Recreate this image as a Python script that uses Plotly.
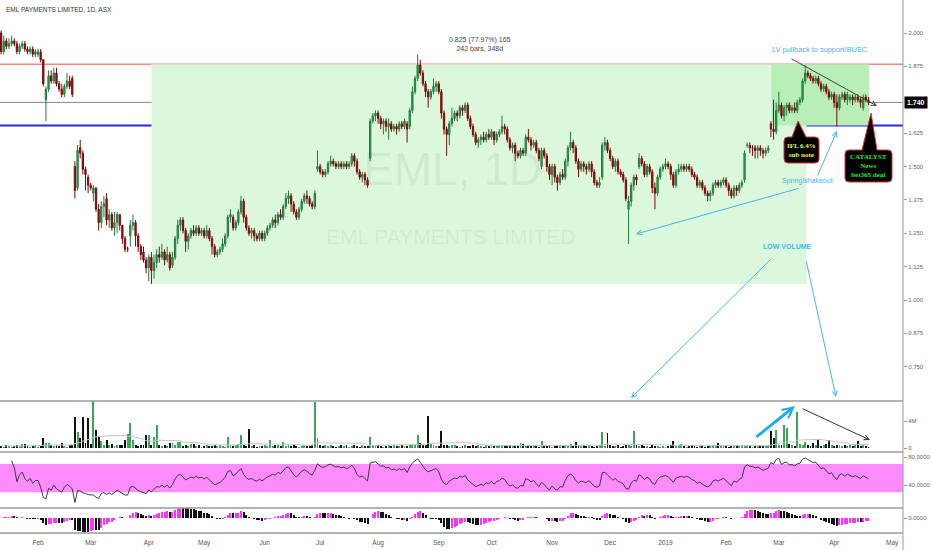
import numpy as np
import pandas as pd
import plotly.graph_objects as go

# ---------------- data (prices in cents, volume in 100k shares) ----------------
start_date = "2018-01-12"

opens = [
    200,193,197,195,196,197,196,193,195,196, 194,193,194,192,192,193,190,175,179,184,
    182,185,181,179,177,180,182,183,150,142, 157,155,149,146,143,140,142,134,129,135,
    138,130,132,127,129,132,128,123,119,124, 128,129,124,120,118,115,112,116,111,114,
    117,116,118,115,117,113,116,123,128,130, 126,122,124,126,125,127,125,126,124,126,
    123,120,117,118,119,121,124,131,131,127, 129,133,137,131,127,125,126,124,123,125,
    123,125,127,128,130,129,132,131,135,138, 139,136,133,131,134,137,139,138,136,135,
    149,150,148,147,148,151,152,151,150,151, 150,151,150,151,154,152,148,146,147,145,
    153,167,169,170,168,166,167,165,166,164, 165,164,166,165,166,165,171,178,183,188,
    185,181,178,176,178,180,181,178,170,164, 162,166,168,170,169,172,171,173,168,165,
    162,159,160,161,160,162,161,163,160,162, 163,165,164,160,157,158,155,154,156,155,
    161,160,158,159,156,150,156,154,150,147, 150,146,144,147,146,152,157,159,157,152,
    149,151,150,149,151,148,144,143,146,158, 159,156,153,150,152,148,147,145,134,137,
    143,146,150,153,151,147,150,148,142,140, 146,149,150,151,150,147,143,148,149,150,
    149,150,149,147,146,143,144,142,140,139, 140,143,144,143,144,145,143,141,139,142,
    141,143,145,158,158,157,157,156,157,156, 155,156,166,164,163,171,173,169,172,173,
    171,172,171,174,175,182,185,184,183,182, 183,181,179,180,178,176,177,174,172,176,
    177,175,175,176,175,176,175,172,176,175,
]
highs = [
    201,199,198,198,199,198,197,196,197,197, 195,195,195,194,194,194,190,180,186,186,
    187,187,182,181,181,185,184,184,152,158, 160,156,150,147,144,143,142,136,137,139,
    140,134,133,133,133,132,128,124,120,130, 132,130,125,121,120,116,117,118,117,119,
    120,121,119,120,118,118,124,130,131,131, 127,125,127,128,128,128,127,127,128,127,
    124,121,119,120,123,125,132,134,132,130, 134,139,138,132,128,127,127,125,126,126,
    126,128,129,131,132,133,134,136,140,141, 140,137,134,135,138,140,141,139,137,141,
    156,151,149,149,152,154,153,152,152,152, 152,152,152,155,155,153,149,148,148,146,
    168,170,171,171,169,168,168,168,167,166, 166,167,167,168,167,172,180,184,192,190,
    186,182,179,179,183,182,182,179,171,165, 167,172,171,171,173,173,174,174,169,166,
    163,161,162,163,163,164,164,163,163,164, 169,166,165,161,159,159,156,157,157,162,
    164,161,160,160,157,157,157,155,151,151, 151,147,148,149,153,158,163,160,158,153,
    152,152,151,152,152,149,145,146,159,161, 160,157,154,153,153,149,148,146,139,144,
    147,147,155,154,152,151,151,149,144,147, 150,151,153,152,151,148,149,151,151,151,
    151,151,150,148,147,145,145,143,141,141, 144,145,145,145,146,146,144,142,143,143,
    144,145,156,159,159,158,158,158,158,157, 157,158,167,175,174,178,174,173,174,174,
    173,174,175,176,183,188,186,185,184,184, 184,182,181,181,179,178,178,177,177,178,
    178,178,177,177,177,177,176,177,177,176,
]
lows = [
    192,192,194,194,195,195,192,192,194,193, 192,192,191,191,191,189,180,167,178,181,
    181,180,178,176,176,179,179,176,138,141, 153,147,141,140,141,137,133,126,127,131,
    128,127,126,124,125,126,121,118,118,120, 126,120,118,115,114,110,107,106,108,112,
    114,115,113,114,111,112,115,121,126,125, 118,119,123,124,124,124,124,123,123,122,
    117,116,116,117,118,120,123,129,126,126, 128,132,129,126,124,123,122,122,122,122,
    122,124,126,127,127,128,130,130,134,136, 133,132,130,130,133,136,136,135,134,134,
    148,147,146,146,147,150,150,149,149,149, 149,149,149,150,150,147,145,144,143,142,
    152,166,167,166,164,162,163,160,163,163, 162,163,164,164,159,164,170,177,182,184,
    180,176,172,175,177,178,177,168,162,154, 158,165,167,167,168,169,170,167,164,161,
    158,157,158,159,159,160,160,158,159,161, 162,162,159,156,155,152,153,153,154,154,
    159,156,157,155,152,149,153,148,145,143, 144,141,143,145,145,150,156,155,151,146,
    148,148,147,148,146,143,142,142,145,156, 155,152,149,148,147,146,144,137,121,135,
    141,143,149,150,146,146,147,140,134,139, 145,148,149,149,145,142,142,147,148,148,
    148,148,146,145,142,142,141,139,137,137, 139,142,142,142,143,142,139,138,138,139,
    140,142,144,157,155,154,153,153,154,153, 154,155,161,160,162,170,168,167,169,170,
    170,170,170,173,174,181,183,182,181,181, 180,178,178,177,175,175,172,165,171,175,
    174,173,174,173,174,174,172,171,174,173,
]
closes = [
    193,197,195,196,197,196,193,195,196,194, 193,194,192,193,193,190,181,179,184,182,
    185,181,179,177,180,182,180,177,141,156, 155,149,147,143,142,142,134,129,135,136,
    130,132,127,129,132,128,123,119,119,128, 129,124,120,117,115,112,116,111,114,117,
    116,118,115,117,112,116,123,128,130,126, 122,124,126,125,127,125,126,124,126,123,
    120,117,118,119,121,124,131,132,127,129, 133,137,131,127,125,126,124,123,125,123,
    125,127,128,130,129,132,131,135,138,139, 136,133,131,134,137,139,138,136,135,140,
    150,148,147,148,151,152,151,150,151,150, 151,150,151,154,152,148,146,147,145,143,
    167,169,170,168,166,167,165,166,164,165, 164,166,165,167,164,171,178,183,188,185,
    181,178,176,178,180,181,178,170,164,162, 166,168,170,169,172,171,173,168,165,162,
    159,160,161,160,162,161,163,160,162,163, 165,164,160,157,158,155,154,156,155,161,
    160,158,159,156,153,156,154,150,147,150, 146,144,147,146,152,157,159,157,152,149,
    151,150,149,151,148,144,143,144,158,159, 156,153,150,152,148,147,145,138,137,143,
    146,145,153,151,147,150,148,142,140,146, 149,150,151,150,147,143,148,149,150,149,
    150,149,147,146,143,144,142,140,139,140, 143,144,143,144,145,143,141,139,142,141,
    143,144,155,158,157,157,156,157,156,155, 156,157,164,163,171,173,169,172,173,171,
    172,171,174,175,182,185,184,183,182,183, 181,179,180,178,176,177,174,172,176,177,
    175,177,176,175,176,175,174,176,175,174,
]
volumes = [
    3,2,4,3,2,3,4,3,6,6, 3,2,3,4,2,3,15,7,7,4, 3,4,3,7,3,2,4,5,46,24,
    15,46,7,45,6,70,27,18,10,5, 12,4,6,3,5,4,5,12,21,37, 12,4,3,5,4,20,20,5,16,34,
    4,3,5,3,7,7,4,9,9,3, 4,3,6,6,3,4,2,3,4,3, 3,5,3,4,3,2,17,4,3,4,
    6,19,5,3,28,3,4,2,3,3, 4,3,12,3,4,5,3,9,3,4, 3,4,3,2,3,4,3,3,5,68,
    15,4,3,5,3,4,3,2,3,4, 3,4,2,3,4,3,2,4,3,3, 16,5,3,4,3,2,3,4,3,4,
    3,3,4,3,3,5,6,4,20,7, 4,5,47,6,4,3,3,25,5,4, 3,4,5,3,2,3,4,3,3,5,
    3,4,3,2,4,3,5,3,3,5, 3,4,3,4,3,5,3,8,6,3, 4,3,4,3,2,10,3,3,4,2,
    3,4,5,3,4,3,6,3,9,4, 3,5,3,4,3,2,3,4,24,3, 22,4,3,3,4,2,3,5,4,3,
    25,4,3,4,3,3,2,4,3,3, 2,3,2,3,4,10,3,4,6,3, 2,3,4,3,2,3,4,2,3,3,
    4,3,7,3,4,3,2,3,4,5, 3,4,3,4,3,2,3,3,4,3, 3,4,25,15,26,5,4,34,29,6,
    4,3,53,6,4,9,4,3,8,4, 12,3,4,6,12,4,3,5,4,3, 4,3,5,3,4,10,3,4,3,2,
]

resistance_level = 1.883   # red line / top of range box
support_level = 1.654      # blue line
rsi_band = (30, 70)
price_ticks = [0.625, 0.75, 0.875, 1.0, 1.125, 1.25, 1.375, 1.5, 1.625, 1.875, 2.0]

# ---------------- derived series ----------------
N = len(closes)
idx = np.arange(N)
o = np.array(opens) / 100.0
c = np.array(closes) / 100.0
h = np.maximum(np.array(highs) / 100.0, np.maximum(o, c))
l = np.minimum(np.array(lows) / 100.0, np.minimum(o, c))
vol = np.array(volumes, dtype=float)

all_dates = pd.bdate_range(start_date, "2019-05-10")
tickvals, ticktext = [], []
for k in range(1, len(all_dates)):
    if all_dates[k].month != all_dates[k - 1].month:
        tickvals.append(k)
        ticktext.append(str(all_dates[k].year) if all_dates[k].month == 1 else all_dates[k].strftime("%b"))

cs = pd.Series(c)
d = cs.diff()
au = d.clip(lower=0).ewm(alpha=1 / 14, adjust=True, min_periods=4).mean()
ad = (-d.clip(upper=0)).ewm(alpha=1 / 14, adjust=True, min_periods=4).mean()
rsi = 100 - 100 / (1 + au / ad)

macd = cs.ewm(span=12, adjust=False).mean() - cs.ewm(span=26, adjust=False).mean()
hist = macd - macd.ewm(span=9, adjust=False).mean()
hist_col = ["#ff33ff" if (i > 0 and hist[i] >= hist[i - 1]) else "#111111" for i in range(N)]
vol_ma = pd.Series(vol).rolling(20, min_periods=1).mean()
vol_col = ["#3ba55c" if c[i] >= o[i] else "#111111" for i in range(N)]

# ---------------- geometry helpers (pixels -> paper) ----------------
W, H = 932, 550
ML, MR, MT, MB = 0, 29, 0, 17
PW, PH = W - ML - MR, H - MT - MB


def X(x):
    return (x - ML) / PW


def Y(y):
    return (PH - (y - MT)) / PH


def rng(v_a, y_a, v_b, y_b, top, bottom):
    k = (v_a - v_b) / (y_b - y_a)
    return [v_b - (bottom - y_b) * k, v_a + (y_a - top) * k]


price_rng = rng(2.0, 33, 1.0, 300, 0, 400)
vol_rng = rng(40, 421, 0, 448, 401, 452)
rsi_rng = rng(70, 463.3, 30, 492, 452, 508)
hmin = float(hist.min())
lo = hmin * 15 / 14
macd_rng = [lo, -lo * 10 / 15]

fig = go.Figure()
fig.add_trace(go.Candlestick(
    x=idx, open=o, high=h, low=l, close=c, whiskerwidth=0,
    increasing=dict(line=dict(color="#1f7a3f", width=1), fillcolor="#3aa55d"),
    decreasing=dict(line=dict(color="#7a0a0a", width=1), fillcolor="#a31212"),
    xaxis="x", yaxis="y", hoverinfo="skip"))
fig.add_trace(go.Bar(x=idx, y=vol, marker=dict(color=vol_col, line=dict(width=0)), width=0.72,
                     xaxis="x", yaxis="y2"))
fig.add_trace(go.Scatter(x=idx, y=vol_ma, mode="lines", line=dict(color="#c4c4c4", width=1),
                         xaxis="x", yaxis="y2"))
fig.add_trace(go.Scatter(x=idx, y=rsi, mode="lines", line=dict(color="#3a3a3a", width=1),
                         xaxis="x", yaxis="y3"))
fig.add_trace(go.Bar(x=idx, y=hist, marker=dict(color=hist_col, line=dict(width=0)), width=0.75,
                     xaxis="x", yaxis="y4"))

low_idx = int(np.argmin(l))
shapes = [
    dict(type="rect", xref="x", yref="y", x0=low_idx, x1=305.5, y0=float(l[low_idx]), y1=resistance_level,
         fillcolor="#dcf8dc", line=dict(width=0), layer="below"),
    dict(type="rect", xref="x", yref="y", x0=292.2, x1=329.2, y0=support_level, y1=resistance_level,
         fillcolor="#b8eeb8", line=dict(width=0), layer="below"),
    dict(type="line", xref="paper", yref="y", x0=0, x1=1, y0=resistance_level, y1=resistance_level,
         line=dict(color="#f08a80", width=1.5), layer="below"),
    dict(type="line", xref="paper", yref="y", x0=0, x1=1, y0=float(c[-1]), y1=float(c[-1]),
         line=dict(color="#888888", width=1), layer="below"),
    dict(type="line", xref="paper", yref="y", x0=0, x1=1, y0=support_level, y1=support_level,
         line=dict(color="#2626e0", width=2), layer="below"),
    dict(type="rect", xref="paper", yref="y3", x0=0, x1=1, y0=rsi_band[0], y1=rsi_band[1],
         fillcolor="#ff8cff", line=dict(width=0), layer="below"),
]
for yy in (401, 452, 508, 533):
    shapes.append(dict(type="line", xref="paper", yref="paper", x0=0, x1=1, y0=Y(yy), y1=Y(yy),
                       line=dict(color="#9a9a9a", width=1.5)))
shapes.append(dict(type="line", xref="paper", yref="paper", x0=1, x1=1, y0=Y(550), y1=1,
                   line=dict(color="#9a9a9a", width=1)))


def callout(x0, y0, x1, y1, wl, wr, tx, ty, r=4):
    p = (f"M {X(x0 + r)},{Y(y0)} L {X(wl)},{Y(y0)} L {X(tx)},{Y(ty)} L {X(wr)},{Y(y0)} "
         f"L {X(x1 - r)},{Y(y0)} Q {X(x1)},{Y(y0)} {X(x1)},{Y(y0 + r)} L {X(x1)},{Y(y1 - r)} "
         f"Q {X(x1)},{Y(y1)} {X(x1 - r)},{Y(y1)} L {X(x0 + r)},{Y(y1)} Q {X(x0)},{Y(y1)} {X(x0)},{Y(y1 - r)} "
         f"L {X(x0)},{Y(y0 + r)} Q {X(x0)},{Y(y0)} {X(x0 + r)},{Y(y0)} Z")
    return dict(type="path", xref="paper", yref="paper", path=p, fillcolor="#000000",
                line=dict(color="#e03030", width=1))


shapes.append(callout(784, 137, 819, 163, 792, 806, 798, 121))
shapes.append(callout(845, 150, 892, 182, 862, 877, 871, 113))

SANS = "Liberation Sans, Arial, sans-serif"
SERIF = "Liberation Serif, serif"
BLUE = "#47b5ea"


def note(x, y, text, size=8, color="#333", family=SANS, xanchor="center", yanchor="middle", **kw):
    return dict(x=X(x), y=Y(y), xref="paper", yref="paper", text=text, showarrow=False,
                xanchor=xanchor, yanchor=yanchor,
                font=dict(size=size, color=color, family=family), **kw)


def arrow(x0, y0, x1, y1, color, width=1, size=1.0):
    return dict(x=X(x1), y=Y(y1), xref="paper", yref="paper", ax=x0 - x1, ay=y0 - y1,
                axref="pixel", ayref="pixel", showarrow=True, arrowhead=5, arrowsize=size,
                arrowwidth=width, arrowcolor=color, standoff=0, startstandoff=0, text="")


annotations = [
    note(453, 169, "EML, 1D", size=46, color="rgba(90,90,90,0.09)"),
    note(450, 236, "EML PAYMENTS LIMITED", size=21, color="rgba(90,90,90,0.09)"),
    note(4, 10, "EML PAYMENTS LIMITED, 1D, ASX", size=6.5, color="#333", xanchor="left"),
    note(480, 44, "0.825 (77.97%) 165<br>242 bars, 348d", size=7, color="#444"),
    note(820, 50, "LV pullback to support/BUEC", size=7.4, color=BLUE),
    note(807, 181, "Spring/shakeout", size=7, color=BLUE),
    note(787, 247, "<b>LOW VOLUME</b>", size=7, color=BLUE),
    note(801.5, 150, "<b>IFL 6.4%<br>sub note</b>", size=7, color="#e4f55a", family=SERIF),
    note(868.5, 166, "<b>CATALYST<br>News<br>bet365 deal</b>", size=7, color="#27e83a", family=SERIF),
    dict(x=X(916.5), y=Y(102.5), xref="paper", yref="paper", text="<b>1.740</b>", showarrow=False,
         xanchor="center", yanchor="middle",
         font=dict(size=7, color="#ffffff", family=SANS), bgcolor="#000000", borderpad=2),
    arrow(790, 58, 877, 106, "#444444"),
    arrow(800, 188, 636, 234, BLUE),
    arrow(817, 177, 837, 131, BLUE),
    arrow(772, 258, 631, 398, BLUE),
    arrow(806, 260, 836, 397, BLUE),
    arrow(755, 438, 795, 406, "#22aaee", width=3, size=0.7),
    arrow(801, 408, 870, 440, "#333333"),
]

yax = dict(side="right", anchor="x", showgrid=False, zeroline=False, ticks="outside", ticklen=3,
           tickcolor="#999", tickfont=dict(size=6, color="#666", family=SANS), fixedrange=True,
           showline=False)
fig.update_layout(
    width=W, height=H, margin=dict(l=ML, r=MR, t=MT, b=MB, autoexpand=False),
    paper_bgcolor="#ffffff", plot_bgcolor="#ffffff", showlegend=False,
    font=dict(family=SANS), bargap=0,
    xaxis=dict(domain=[0, 1], anchor="y4", range=[-0.42, 342.1], tickvals=tickvals, ticktext=ticktext,
               showgrid=False, zeroline=False, ticks="", showline=False, ticklabelstandoff=4,
               tickfont=dict(size=6.5, color="#555", family=SANS), rangeslider=dict(visible=False),
               fixedrange=True),
    yaxis=dict(yax, domain=[Y(400), 1], range=price_rng, tickvals=price_ticks,
               ticktext=[f"{v:.3f}" for v in price_ticks]),
    yaxis2=dict(yax, domain=[Y(452), Y(401)], range=vol_rng, tickvals=[0, 40], ticktext=["0", "4M"]),
    yaxis3=dict(yax, domain=[Y(508), Y(453)], range=rsi_rng, tickvals=[40, 80],
                ticktext=["40.0000", "80.0000"]),
    yaxis4=dict(yax, domain=[0, Y(508)], range=macd_rng, tickvals=[0], ticktext=["0.0000"]),
    shapes=shapes, annotations=annotations,
)
fig.write_html("out.html", config={"displayModeBar": False, "staticPlot": True},
               post_script="document.body.style.margin='0';")
